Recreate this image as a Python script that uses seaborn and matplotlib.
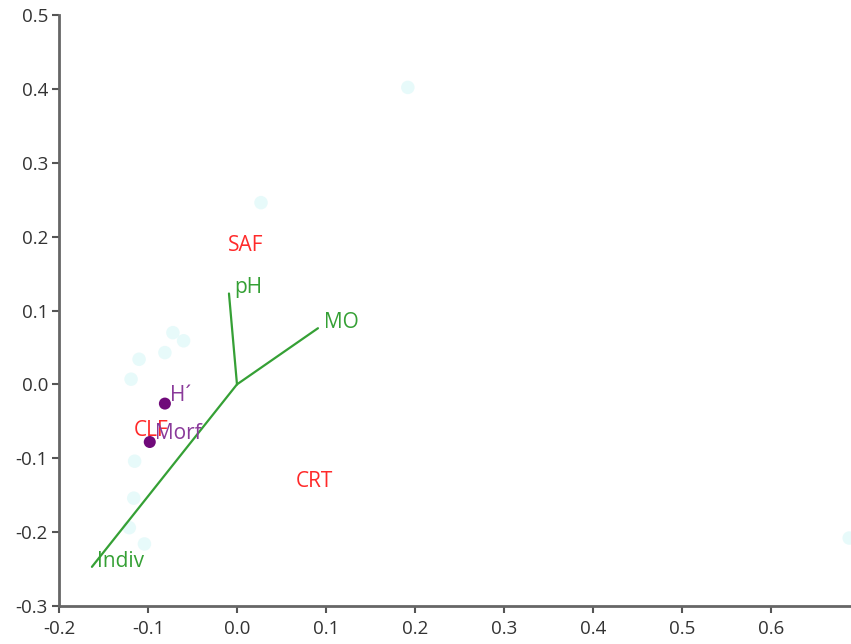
import matplotlib
matplotlib.use("Agg")
import matplotlib.pyplot as plt
import seaborn as sns
import pandas as pd

# Site scores (faint background points)
site_x = [0.192, 0.027, -0.072, -0.060, -0.081, -0.110, -0.119, -0.115, -0.116, -0.121, -0.104, 0.688]
site_y = [0.402, 0.246, 0.070, 0.059, 0.043, 0.034, 0.007, -0.104, -0.154, -0.194, -0.216, -0.208]

# Habitat centroids (text only)
habitat_names = ["SAF", "CLF", "CRT"]
habitat_x = [0.010, -0.096, 0.087]
habitat_y = [0.188, -0.062, -0.132]

# Environmental vectors
env_names = ["pH", "MO", "Indiv"]
env_x = [-0.009, 0.091, -0.163]
env_y = [0.123, 0.076, -0.247]

# Supplementary variables
supp_names = ["H´", "Morf"]
supp_x = [-0.081, -0.098]
supp_y = [-0.026, -0.078]

sns.set_theme(style="white")
plt.rcParams["font.family"] = ["Open Sans", "DejaVu Sans"]

fig = plt.figure(figsize=(8.51, 6.44), dpi=100)
ax = fig.add_axes([59 / 851, 38 / 644, 1 - 59 / 851, (606 - 15) / 644])

sites = pd.DataFrame({"x": site_x, "y": site_y})
sns.scatterplot(data=sites, x="x", y="y", ax=ax, s=95, color="#e2f9f9",
                edgecolor="none", alpha=0.8, clip_on=False, zorder=1)

green = "#35a035"
for name, vx, vy in zip(env_names, env_x, env_y):
    seg = pd.DataFrame({"x": [0.0, vx], "y": [0.0, vy]})
    sns.lineplot(data=seg, x="x", y="y", ax=ax, color=green, lw=1.6,
                 sort=False, estimator=None, zorder=2)
    ax.annotate(name, (vx, vy), xytext=(4, 4), textcoords="offset points",
                color=green, fontsize=15, ha="left", va="center")

for name, hx, hy in zip(habitat_names, habitat_x, habitat_y):
    ax.text(hx, hy, name, color="#ff2a2a", fontsize=15, ha="center",
            va="center", zorder=3)

supp = pd.DataFrame({"x": supp_x, "y": supp_y})
sns.scatterplot(data=supp, x="x", y="y", ax=ax, s=75, color="#700a7a",
                edgecolor="none", zorder=4)
for name, px, py in zip(supp_names, supp_x, supp_y):
    ax.annotate(name, (px, py), xytext=(4, 6), textcoords="offset points",
                color="#8a3a9a", fontsize=15, ha="left", va="center", zorder=4)

ax.set_xlim(-0.2, 0.69)
ax.set_ylim(-0.3, 0.5)
ax.set_xticks([-0.2, -0.1, 0.0, 0.1, 0.2, 0.3, 0.4, 0.5, 0.6])
ax.set_yticks([-0.3, -0.2, -0.1, 0.0, 0.1, 0.2, 0.3, 0.4, 0.5])
ax.xaxis.set_major_formatter(matplotlib.ticker.FormatStrFormatter("%.1f"))
ax.yaxis.set_major_formatter(matplotlib.ticker.FormatStrFormatter("%.1f"))
ax.set_xlabel("")
ax.set_ylabel("")

for side in ["top", "right"]:
    ax.spines[side].set_visible(False)
for side in ["left", "bottom"]:
    ax.spines[side].set_color("#666666")
    ax.spines[side].set_linewidth(2)
ax.tick_params(axis="both", direction="out", length=5, width=1.5,
               color="#555555", labelcolor="#333333", labelsize=13.5,
               left=True, bottom=True)
ax.tick_params(axis="x", pad=5)
ax.tick_params(axis="y", pad=3)
ax.set_facecolor("white")
fig.patch.set_facecolor("white")

fig.savefig("out.png", dpi=100, facecolor="white")
